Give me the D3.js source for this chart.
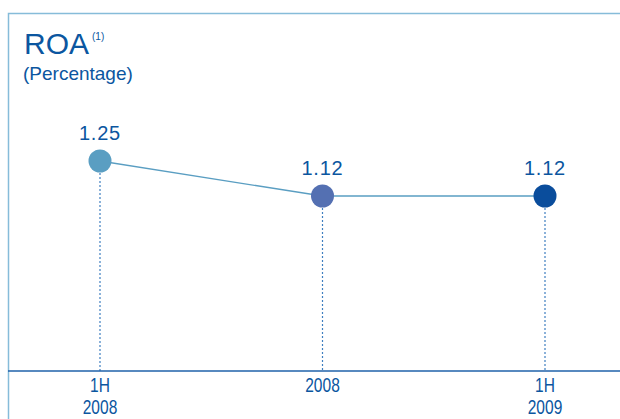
<!DOCTYPE html>
<html>
<head>
<meta charset="utf-8">
<script src="https://cdn.jsdelivr.net/npm/d3@7"></script>
<style>
body { margin: 0; background: #fff; }
text { font-family: "Liberation Sans", Arial, sans-serif; }
</style>
</head>
<body>
<div id="chart"></div>
<script>
var periods = ["1H 2008", "2008", "1H 2009"];
var tickLines = [["1H", "2008"], ["2008"], ["1H", "2009"]];
var roa = [1.25, 1.12, 1.12];
var dotColors = ["#5a9ec2", "#5470b2", "#0a4d9c"];

var width = 620, height = 419;
var baseY = 371;

var svg = d3.select("#chart").append("svg")
    .attr("width", width)
    .attr("height", height);

var x = d3.scalePoint().domain(periods).range([100, 545]);
var y = d3.scaleLinear().domain([0.47, 1.25]).range([baseY, 161]);

// frame
svg.append("path")
    .attr("d", "M8.5," + height + "V13.5H" + width)
    .attr("fill", "none")
    .attr("stroke", "#86bcd9")
    .attr("stroke-width", 1.5);

// title
svg.append("text")
    .attr("x", 24)
    .attr("y", 54)
    .attr("fill", "#0b56a0")
    .style("font-size", "30px")
    .text("ROA");
svg.append("text")
    .attr("x", 92)
    .attr("y", 40)
    .attr("fill", "#0b56a0")
    .style("font-size", "10px")
    .text("(1)");
svg.append("text")
    .attr("x", 23)
    .attr("y", 80)
    .attr("fill", "#0b56a0")
    .style("font-size", "19px")
    .text("(Percentage)");

// drop lines
svg.append("g").selectAll("line")
    .data(roa)
    .enter().append("line")
    .attr("x1", function (d, i) { return x(periods[i]); })
    .attr("x2", function (d, i) { return x(periods[i]); })
    .attr("y1", function (d) { return y(d); })
    .attr("y2", baseY)
    .attr("stroke", "#3f7fc0")
    .attr("stroke-width", 1.2)
    .attr("stroke-dasharray", "2,2");

// baseline
svg.append("line")
    .attr("x1", 8).attr("x2", width)
    .attr("y1", baseY).attr("y2", baseY)
    .attr("stroke", "#1f62aa")
    .attr("stroke-width", 1.5);

// connecting line
var line = d3.line()
    .x(function (d, i) { return x(periods[i]); })
    .y(function (d) { return y(d); });
svg.append("path")
    .datum(roa)
    .attr("d", line)
    .attr("fill", "none")
    .attr("stroke", "#5a9ec2")
    .attr("stroke-width", 1.3);

// dots
svg.append("g").selectAll("circle")
    .data(roa)
    .enter().append("circle")
    .attr("cx", function (d, i) { return x(periods[i]); })
    .attr("cy", function (d) { return y(d); })
    .attr("r", 11.5)
    .attr("fill", function (d, i) { return dotColors[i]; });

// value labels
svg.append("g").selectAll("text")
    .data(roa)
    .enter().append("text")
    .attr("x", function (d, i) { return x(periods[i]); })
    .attr("y", function (d) { return y(d) - 21; })
    .attr("text-anchor", "middle")
    .attr("fill", "#0b56a0")
    .style("font-size", "20px")
    .style("letter-spacing", "0.8px")
    .text(function (d) { return d3.format(".2f")(d); });

// x tick labels
var ticks = svg.append("g").selectAll("text")
    .data(tickLines)
    .enter().append("text")
    .attr("x", function (d, i) { return x(periods[i]); })
    .attr("y", 392)
    .attr("text-anchor", "middle")
    .attr("fill", "#0b56a0")
    .style("font-size", "21px")
    .attr("transform", function (d, i) {
        var cx = x(periods[i]);
        return "translate(" + cx + ",0) scale(0.74,1) translate(" + (-cx) + ",0)";
    });
ticks.selectAll("tspan")
    .data(function (d) { return d; })
    .enter().append("tspan")
    .attr("x", function () { return d3.select(this.parentNode).attr("x"); })
    .attr("dy", function (d, i) { return i === 0 ? 0 : 22; })
    .text(function (d) { return d; });
</script>
</body>
</html>
